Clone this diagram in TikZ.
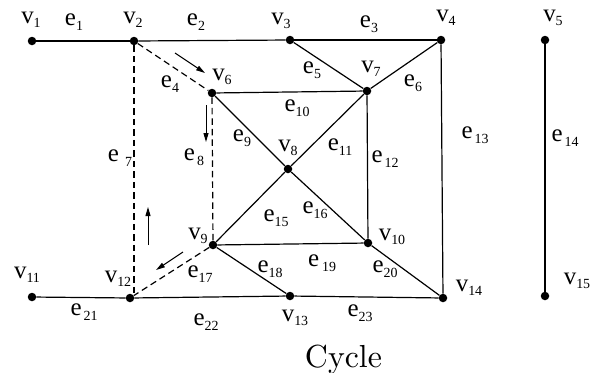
\documentclass[tikz,border=0pt]{standalone}
\usepackage{fontspec}
\newfontfamily\labfont{Liberation Serif}
\newfontfamily\capfont{lmroman10-regular.otf}
\usetikzlibrary{arrows.meta}
\newcommand{\lbl}[3][0bp]{{\labfont\fontsize{25}{25}\selectfont #2}\hspace{#1}\raisebox{-4.5bp}{\labfont\fontsize{14}{14}\selectfont #3}}
\tikzset{
  dot/.style={circle,fill=black,inner sep=0pt,minimum size=8.5bp},
  edge/.style={line width=1.2bp,black},
  dedge/.style={line width=1.2bp,black,dash pattern=on 6.5bp off 4bp},
  lab/.style={inner sep=0pt},
  flow/.style={line width=1bp,-{Triangle[length=9bp,width=5bp]}}
}
\begin{document}
\begin{tikzpicture}[x=1bp,y=-1bp]
\useasboundingbox (0,0) rectangle (596,372);
% vertices
\node[dot] (v1) at (32,41) {};
\node[dot] (v2) at (134,41) {};
\node[dot] (v3) at (290,40) {};
\node[dot] (v4) at (441,40) {};
\node[dot] (v5) at (545,40) {};
\node[dot] (v6) at (212,93) {};
\node[dot] (v7) at (367,91) {};
\node[dot] (v8) at (288,169) {};
\node[dot] (v9) at (213,245) {};
\node[dot] (v10) at (368,243) {};
\node[dot] (v11) at (32,297) {};
\node[dot] (v12) at (130,298) {};
\node[dot] (v13) at (290,296) {};
\node[dot] (v14) at (443,298) {};
\node[dot] (v15) at (545,296) {};
% solid edges
\draw[edge] (v1) -- (v2);
\draw[edge] (v2) -- (v3);
\draw[edge] (v3) -- (v4);
\draw[edge] (v3) -- (v7);
\draw[edge] (v4) -- (v7);
\draw[edge] (v6) -- (v8);
\draw[edge] (v6) -- (v7);
\draw[edge] (v7) -- (v8);
\draw[edge] (v7) -- (v10);
\draw[edge] (v4) -- (v14);
\draw[edge] (v5) -- (v15);
\draw[edge] (v8) -- (v9);
\draw[edge] (v8) -- (v10);
\draw[edge] (v9) -- (v13);
\draw[edge] (v9) -- (v10);
\draw[edge] (v10) -- (v14);
\draw[edge] (v11) -- (v12);
\draw[edge] (v12) -- (v13);
\draw[edge] (v13) -- (v14);
% dashed edges
\coordinate (e7end) at (134,293);
\draw[dedge] (v2) -- (v6);
\draw[dedge] (v2) -- (e7end);
\draw[dedge] (v6) -- (v9);
\draw[dedge] (v9) -- (v12);
% direction arrows
\coordinate (a1s) at (175,53); \coordinate (a1e) at (205,73);
\coordinate (a2s) at (206,105); \coordinate (a2e) at (206,142);
\coordinate (a3s) at (148,245); \coordinate (a3e) at (148,207);
\coordinate (a4s) at (183,252); \coordinate (a4e) at (156,270);
\draw[flow] (a1s) -- (a1e);
\draw[flow] (a2s) -- (a2e);
\draw[flow] (a3s) -- (a3e);
\draw[flow] (a4s) -- (a4e);
% vertex labels
\node[lab] (lv1) at (31,20) {\lbl{v}{1}};
\node[lab] (lv2) at (133,20) {\lbl{v}{2}};
\node[lab] (lv3) at (281,21) {\lbl{v}{3}};
\node[lab] (lv4) at (446,18) {\lbl{v}{4}};
\node[lab] (lv5) at (553,18) {\lbl{v}{5}};
\node[lab] (lv6) at (222,77) {\lbl{v}{6}};
\node[lab] (lv7) at (371,69) {\lbl{v}{7}};
\node[lab] (lv8) at (288,148) {\lbl{v}{8}};
\node[lab] (lv9) at (198,236) {\lbl{v}{9}};
\node[lab] (lv10) at (392,237) {\lbl{v}{10}};
\node[lab] (lv11) at (27,275) {\lbl{v}{11}};
\node[lab] (lv12) at (118,279) {\lbl{v}{12}};
\node[lab] (lv13) at (295,318) {\lbl{v}{13}};
\node[lab] (lv14) at (469,288) {\lbl{v}{14}};
\node[lab] (lv15) at (577,281) {\lbl{v}{15}};
% edge labels
\node[lab] (le1) at (74,22) {\lbl{e}{1}};
\node[lab] (le2) at (196,22) {\lbl{e}{2}};
\node[lab] (le3) at (369,24) {\lbl{e}{3}};
\node[lab] (le4) at (170,84) {\lbl{e}{4}};
\node[lab] (le5) at (312,70) {\lbl{e}{5}};
\node[lab] (le6) at (413,83) {\lbl{e}{6}};
\node[lab] (le7) at (120,158) {\lbl[6bp]{e}{7}};
\node[lab] (le8) at (194,157) {\lbl[2bp]{e}{8}};
\node[lab] (le9) at (242,138) {\lbl{e}{9}};
\node[lab] (le10) at (297,108) {\lbl{e}{10}};
\node[lab] (le11) at (340,147) {\lbl{e}{11}};
\node[lab] (le12) at (385,159) {\lbl[2bp]{e}{12}};
\node[lab] (le13) at (475,135) {\lbl[2bp]{e}{13}};
\node[lab] (le14) at (565,138) {\lbl[2bp]{e}{14}};
\node[lab] (le15) at (276,218) {\lbl{e}{15}};
\node[lab] (le16) at (315,210) {\lbl{e}{16}};
\node[lab] (le17) at (200,274) {\lbl{e}{17}};
\node[lab] (le18) at (270,269) {\lbl{e}{18}};
\node[lab] (le19) at (322,263) {\lbl[3bp]{e}{19}};
\node[lab] (le20) at (385,269) {\lbl{e}{20}};
\node[lab] (le21) at (84,312) {\lbl[2bp]{e}{21}};
\node[lab] (le22) at (206,322) {\lbl{e}{22}};
\node[lab] (le23) at (360,313) {\lbl{e}{23}};
% caption
\node[inner sep=0pt,anchor=base] (cap) at (343.5,367) {\capfont\fontsize{32}{32}\selectfont Cycle};
\end{tikzpicture}
\end{document}
